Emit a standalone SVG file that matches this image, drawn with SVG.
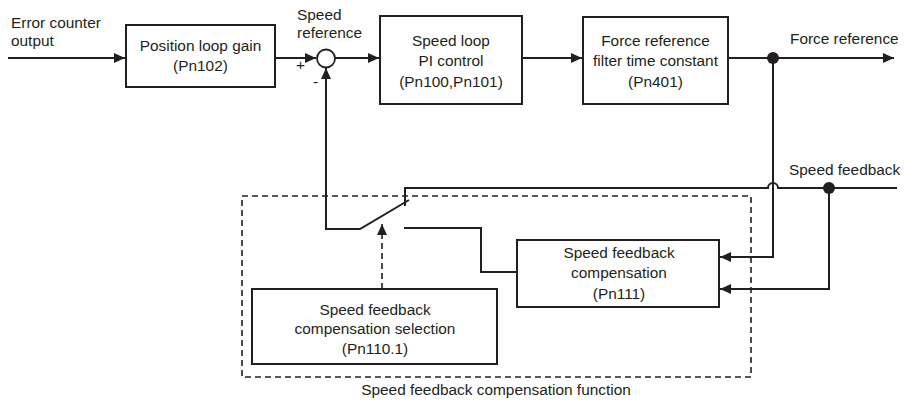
<svg xmlns="http://www.w3.org/2000/svg" width="904" height="401" viewBox="0 0 904 401">
<style>
text{font-family:"Liberation Sans",Arial,sans-serif;font-size:15.4px;fill:#231f20}
.c{text-anchor:middle}
.box{fill:#fff;stroke:#231f20;stroke-width:2}
.ln{fill:none;stroke:#231f20;stroke-width:2}
.dash{fill:none;stroke:#231f20;stroke-width:1.6;stroke-dasharray:6 4}
</style>
<defs>
<marker id="ah" markerWidth="12" markerHeight="10" refX="11" refY="5" orient="auto" markerUnits="userSpaceOnUse">
<path d="M0,0 L11,5 L0,10 Z" fill="#231f20"/>
</marker>
</defs>
<rect width="904" height="401" fill="#fff"/>
<g id="frame">
<rect class="dash" x="242" y="196" width="509" height="181"/>
<text class="c" x="496" y="395">Speed feedback compensation function</text>
</g>
<g id="connectors">
<path class="ln" d="M8,58 H125" marker-end="url(#ah)"/>
<path class="ln" d="M275,58 H316" marker-end="url(#ah)"/>
<path class="ln" d="M335,58 H379" marker-end="url(#ah)"/>
<path class="ln" d="M522,58 H582" marker-end="url(#ah)"/>
<path class="ln" d="M728,58 H894" marker-end="url(#ah)"/>
<path class="ln" d="M773,58 V257 H720" marker-end="url(#ah)"/>
<path class="ln" d="M897,188 H829 V289 H720" marker-end="url(#ah)"/>
<path class="ln" d="M829,188 H778 A5,5 0 0 0 768,188 H405 V206"/>
<path class="ln" d="M409,200 L360,229 H326 V68" marker-end="url(#ah)"/>
<path class="ln" d="M404,228 H481 V272 H517"/>
<path class="dash" d="M382,289 V224" marker-end="url(#ah)"/>
<circle cx="773" cy="58" r="6" fill="#231f20"/>
<circle cx="829" cy="188" r="6" fill="#231f20"/>
</g>
<g id="labels">
<text x="11" y="28">Error counter</text>
<text x="11" y="46">output</text>
<text x="297" y="20">Speed</text>
<text x="297" y="38">reference</text>
<text x="296" y="70">+</text>
<text x="313" y="87">-</text>
<text x="790" y="44">Force reference</text>
<text x="789" y="175">Speed feedback</text>
</g>
<g id="sum">
<circle cx="326" cy="58.5" r="9" fill="#fff" stroke="#231f20" stroke-width="1.8"/>
</g>
<g id="position-loop">
<rect class="box" x="126" y="25" width="149" height="62"/>
<text class="c" x="200.5" y="51">Position loop gain</text>
<text class="c" x="200.5" y="71">(Pn102)</text>
</g>
<g id="speed-loop">
<rect class="box" x="380" y="16" width="142" height="88"/>
<text class="c" x="451" y="46">Speed loop</text>
<text class="c" x="451" y="66">PI control</text>
<text class="c" x="451" y="87">(Pn100,Pn101)</text>
</g>
<g id="force-filter">
<rect class="box" x="583" y="17" width="145" height="87"/>
<text class="c" x="655.5" y="46">Force reference</text>
<text class="c" x="655.5" y="66">filter time constant</text>
<text class="c" x="655.5" y="87">(Pn401)</text>
</g>
<g id="fb-comp">
<rect class="box" x="517" y="240" width="202" height="67"/>
<text class="c" x="619" y="258">Speed feedback</text>
<text class="c" x="619" y="278">compensation</text>
<text class="c" x="619" y="299">(Pn111)</text>
</g>
<g id="fb-select">
<rect class="box" x="252" y="289" width="245" height="75"/>
<text class="c" x="375" y="315">Speed feedback</text>
<text class="c" x="375" y="334">compensation selection</text>
<text class="c" x="375" y="354">(Pn110.1)</text>
</g>
</svg>
